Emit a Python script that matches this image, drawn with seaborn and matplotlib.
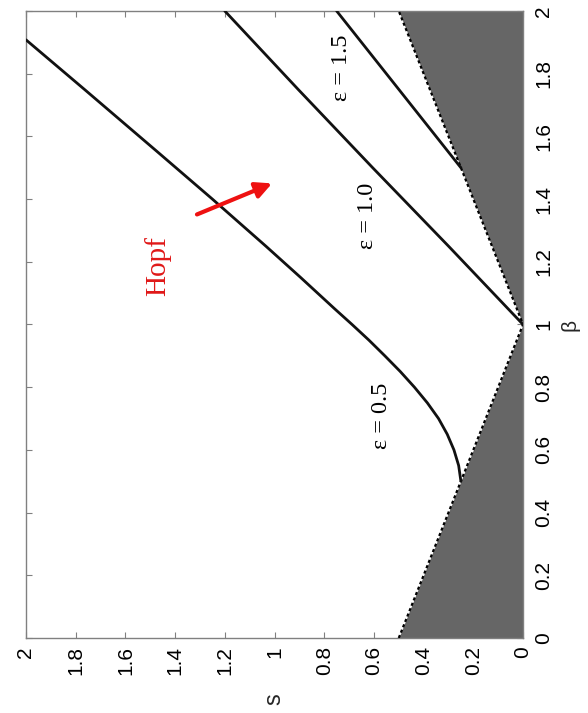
import matplotlib
matplotlib.use("Agg")
import matplotlib.pyplot as plt
import seaborn as sns

# Lower stability boundary s = |1 - beta| / 2, as (beta, s) pairs
boundary_beta = [0.0, 1.0, 2.0]
boundary_s = [0.5, 0.0, 0.5]

# Hopf curves for three values of epsilon, as (beta, s) pairs
eps05_beta = [0.50, 0.55, 0.60, 0.65, 0.70, 0.75, 0.80, 0.85, 0.90, 0.95,
              1.00, 1.05, 1.15, 1.25, 1.40, 1.55, 1.75, 1.908]
eps05_s = [0.25, 0.259, 0.278, 0.305, 0.340, 0.385, 0.437, 0.494, 0.556,
           0.620, 0.688, 0.758, 0.895, 1.035, 1.250, 1.470, 1.765, 2.0]

eps10_beta = [1.0, 1.25, 1.5, 1.75, 2.0]
eps10_s = [0.0, 0.30, 0.605, 0.905, 1.20]

eps15_beta = [1.5, 2.0]
eps15_s = [0.25, 0.75]

# Curve annotations: text, s, beta
curve_labels = [
    ("\u03b5 = 0.5", 0.571, 0.709),
    ("\u03b5 = 1.0", 0.624, 1.348),
    ("\u03b5 = 1.5", 0.732, 1.819),
]
hopf_label = ("Hopf", 1.469, 1.186)
hopf_arrow_tail = (1.312, 1.351)
hopf_arrow_head = (1.010, 1.450)

tick_values = [0, 0.2, 0.4, 0.6, 0.8, 1.0, 1.2, 1.4, 1.6, 1.8, 2.0]
tick_labels = ["0", "0.2", "0.4", "0.6", "0.8", "1", "1.2", "1.4", "1.6", "1.8", "2"]

sns.set_style("ticks")
plt.rcParams["font.family"] = ["Liberation Sans", "DejaVu Sans"]

fig = plt.figure(figsize=(5.88, 7.13), dpi=100)
# The (beta, s) diagram is drawn turned a quarter turn:
# s runs right-to-left along the bottom, beta runs upward on the right.
ax = fig.add_axes([0.0442, 0.1052, 0.8453, 0.8794])

ax.fill_betweenx(boundary_beta, 0, boundary_s, color="#666666", lw=0, zorder=1)
sns.lineplot(x=boundary_s, y=boundary_beta, sort=False, estimator=None,
             color="black", lw=1.6, linestyle=(0, (1.4, 1.2)), ax=ax, zorder=3)

for b, s in [(eps05_beta, eps05_s), (eps10_beta, eps10_s), (eps15_beta, eps15_s)]:
    sns.lineplot(x=s, y=b, sort=False, estimator=None, color="#111111",
                 lw=2.0, ax=ax, zorder=4)

serif = ["Liberation Serif", "DejaVu Serif"]
for text, s, b in curve_labels:
    ax.text(s, b, text, rotation=90, ha="center", va="center",
            fontsize=17.5, family=serif, color="black", zorder=5)

ax.text(hopf_label[1], hopf_label[2], hopf_label[0], rotation=90,
        ha="center", va="center", fontsize=21, family=serif,
        color="#e01818", zorder=5)
ax.annotate("", xy=hopf_arrow_head, xytext=hopf_arrow_tail,
            arrowprops=dict(arrowstyle="-|>", color="#ee1111", lw=3.0,
                            mutation_scale=24, shrinkA=0, shrinkB=0),
            zorder=6)

ax.set_xlim(2, 0)
ax.set_ylim(0, 2)
ax.set_xticks(tick_values)
ax.set_xticklabels(tick_labels, rotation=90, va="top", ha="center")
ax.set_yticks(tick_values)
ax.set_yticklabels(tick_labels, rotation=90, va="center")

ax.tick_params(axis="both", direction="in", length=4, width=0.8,
               color="#808080", labelsize=15, labelcolor="black",
               top=True, bottom=True, left=True, right=True,
               labelleft=False, labelright=True, labelbottom=True, pad=6)
ax.tick_params(axis="y", pad=8)

for sp in ax.spines.values():
    sp.set_color("#808080")
    sp.set_linewidth(1.0)

ax.set_xlabel("s", rotation=90, fontsize=17, va="top", ha="center")
ax.xaxis.set_label_coords(0.5, -0.088)
ax.yaxis.set_label_position("right")
ax.set_ylabel("\u03b2", rotation=90, fontsize=15)
ax.yaxis.set_label_coords(1.075, 0.5)

fig.savefig("out.png", dpi=100, facecolor="white")
